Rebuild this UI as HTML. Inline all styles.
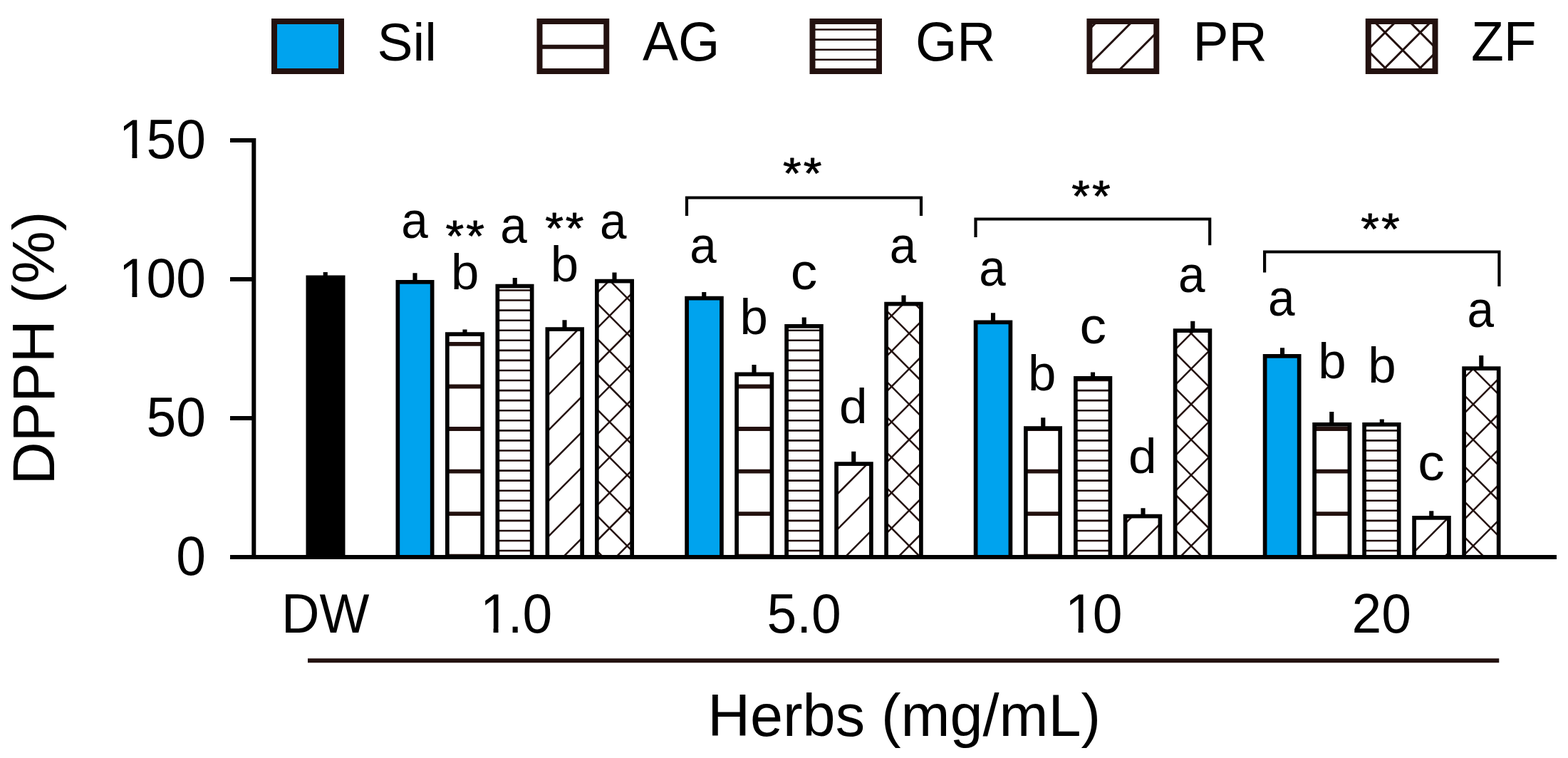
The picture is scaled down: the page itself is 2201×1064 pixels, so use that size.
<!DOCTYPE html>
<html lang="en">
<head>
<meta charset="utf-8">
<title>DPPH (%) of herbs</title>
<style>
html,body{margin:0;padding:0;background:#fff;}
body{width:2201px;height:1064px;overflow:hidden;}
svg{display:block;}
svg text{font-family:"Liberation Sans",Arial,Helvetica,sans-serif;fill:#000;}
</style>
</head>
<body>
<svg width="2201" height="1064" viewBox="0 0 2201 1064" role="img" aria-label="DPPH (%) bar chart">
<defs>
<clipPath id="c1"><rect x="757.50" y="30.00" width="93.75" height="70.00"/></clipPath>
<clipPath id="c2"><rect x="1140.50" y="30.00" width="93.50" height="70.00"/></clipPath>
<clipPath id="c3"><rect x="1529.40" y="30.00" width="93.85" height="70.00"/></clipPath>
<clipPath id="c4"><rect x="1920.75" y="30.00" width="93.75" height="70.00"/></clipPath>
<clipPath id="c5"><rect x="627.85" y="469.10" width="49.30" height="312.90"/></clipPath>
<clipPath id="c6"><rect x="698.35" y="401.60" width="48.30" height="380.40"/></clipPath>
<clipPath id="c7"><rect x="768.35" y="462.10" width="48.80" height="319.90"/></clipPath>
<clipPath id="c8"><rect x="837.85" y="394.60" width="49.30" height="387.40"/></clipPath>
<clipPath id="c9"><rect x="1034.10" y="525.35" width="49.30" height="256.65"/></clipPath>
<clipPath id="c10"><rect x="1104.10" y="457.85" width="48.80" height="324.15"/></clipPath>
<clipPath id="c11"><rect x="1174.10" y="651.10" width="48.80" height="130.90"/></clipPath>
<clipPath id="c12"><rect x="1244.10" y="426.60" width="48.80" height="355.40"/></clipPath>
<clipPath id="c13"><rect x="1439.85" y="601.10" width="48.30" height="180.90"/></clipPath>
<clipPath id="c14"><rect x="1509.85" y="530.85" width="48.55" height="251.15"/></clipPath>
<clipPath id="c15"><rect x="1579.60" y="724.60" width="48.80" height="57.40"/></clipPath>
<clipPath id="c16"><rect x="1649.60" y="464.10" width="48.80" height="317.90"/></clipPath>
<clipPath id="c17"><rect x="1845.10" y="595.85" width="49.30" height="186.15"/></clipPath>
<clipPath id="c18"><rect x="1915.10" y="595.85" width="48.55" height="186.15"/></clipPath>
<clipPath id="c19"><rect x="1985.10" y="726.85" width="48.80" height="55.15"/></clipPath>
<clipPath id="c20"><rect x="2055.10" y="517.15" width="48.55" height="264.85"/></clipPath>
<clipPath id="yl"><rect x="16" y="280" width="77" height="420"/></clipPath>
</defs>
<rect width="2201" height="1064" fill="#fff"/>
<g id="legend">
<rect x="385.00" y="30.0" width="94.00" height="70.0" fill="#00a3ee" stroke="#23110f" stroke-width="8"/>
<text x="529.50" y="85.00" font-size="75">Sil</text>
<g clip-path="url(#c1)" stroke="#23110f" fill="none"><path d="M757.50 65.8H851.25" stroke-width="6"/></g>
<rect x="757.50" y="30.0" width="93.75" height="70.0" fill="none" stroke="#23110f" stroke-width="8"/>
<text transform="translate(902.00 85.00) scale(1.0 1.025)" font-size="75">AG</text>
<g clip-path="url(#c2)" stroke="#23110f" fill="none"><path d="M1140.50 41.5H1234.00" stroke-width="2.6"/><path d="M1140.50 55.6H1234.00" stroke-width="2.6"/><path d="M1140.50 69.7H1234.00" stroke-width="2.6"/><path d="M1140.50 83.8H1234.00" stroke-width="2.6"/></g>
<rect x="1140.50" y="30.0" width="93.50" height="70.0" fill="none" stroke="#23110f" stroke-width="8"/>
<text transform="translate(1285.00 85.00) scale(1.0 1.025)" font-size="75">GR</text>
<g clip-path="url(#c3)" stroke="#23110f" fill="none"><path d="M1524.40 -3.90L1628.25 -108.21" stroke-width="3.0"/><path d="M1524.40 45.80L1628.25 -58.51" stroke-width="3.0"/><path d="M1524.40 95.50L1628.25 -8.81" stroke-width="3.0"/><path d="M1524.40 145.20L1628.25 40.89" stroke-width="3.0"/><path d="M1524.40 194.90L1628.25 90.59" stroke-width="3.0"/></g>
<rect x="1529.40" y="30.0" width="93.85" height="70.0" fill="none" stroke="#23110f" stroke-width="8"/>
<text transform="translate(1674.50 85.00) scale(1.0 1.025)" font-size="75">PR</text>
<g clip-path="url(#c4)" stroke="#23110f" fill="none"><path d="M1915.75 24.47L2019.50 -79.74" stroke-width="3.0"/><path d="M1915.75 74.17L2019.50 -30.04" stroke-width="3.0"/><path d="M1915.75 123.87L2019.50 19.66" stroke-width="3.0"/><path d="M1915.75 173.57L2019.50 69.36" stroke-width="3.0"/><path d="M1915.75 116.43L2019.50 220.64" stroke-width="3.0"/><path d="M1915.75 66.73L2019.50 170.94" stroke-width="3.0"/><path d="M1915.75 17.03L2019.50 121.24" stroke-width="3.0"/><path d="M1915.75 -32.67L2019.50 71.54" stroke-width="3.0"/></g>
<rect x="1920.75" y="30.0" width="93.75" height="70.0" fill="none" stroke="#23110f" stroke-width="8"/>
<text transform="translate(2065.00 85.00) scale(1.0 1.025)" font-size="75">ZF</text>
</g>
<g id="bars">
<path d="M456.75 382.00V389.50" stroke="#000" stroke-width="6.1" fill="none"/><rect x="432.35" y="389.35" width="49.30" height="392.65" fill="#000" stroke="#000" stroke-width="5.7"/>
<path d="M582.50 383.25V396.00" stroke="#000" stroke-width="6.1" fill="none"/><rect x="558.35" y="395.85" width="48.30" height="386.15" fill="#00a3ee" stroke="#000" stroke-width="5.7"/>
<path d="M652.50 462.50V469.25" stroke="#000" stroke-width="6.1" fill="none"/><rect x="627.85" y="469.10" width="49.30" height="312.90" fill="#fff"/><g clip-path="url(#c5)" stroke="#23110f" fill="none"><path d="M622.85 482.90H682.15" stroke-width="5.9"/><path d="M622.85 542.46H682.15" stroke-width="5.9"/><path d="M622.85 602.02H682.15" stroke-width="5.9"/><path d="M622.85 661.58H682.15" stroke-width="5.9"/><path d="M622.85 721.14H682.15" stroke-width="5.9"/><path d="M622.85 780.70H682.15" stroke-width="5.9"/></g><rect x="627.85" y="469.10" width="49.30" height="312.90" fill="none" stroke="#000" stroke-width="5.7"/>
<path d="M722.75 390.00V401.75" stroke="#000" stroke-width="6.1" fill="none"/><rect x="698.35" y="401.60" width="48.30" height="380.40" fill="#fff"/><g clip-path="url(#c6)" stroke="#23110f" fill="none"><path d="M693.35 407.50H751.65" stroke-width="2.6"/><path d="M693.35 421.56H751.65" stroke-width="2.6"/><path d="M693.35 435.62H751.65" stroke-width="2.6"/><path d="M693.35 449.68H751.65" stroke-width="2.6"/><path d="M693.35 463.74H751.65" stroke-width="2.6"/><path d="M693.35 477.80H751.65" stroke-width="2.6"/><path d="M693.35 491.86H751.65" stroke-width="2.6"/><path d="M693.35 505.92H751.65" stroke-width="2.6"/><path d="M693.35 519.98H751.65" stroke-width="2.6"/><path d="M693.35 534.04H751.65" stroke-width="2.6"/><path d="M693.35 548.10H751.65" stroke-width="2.6"/><path d="M693.35 562.16H751.65" stroke-width="2.6"/><path d="M693.35 576.22H751.65" stroke-width="2.6"/><path d="M693.35 590.28H751.65" stroke-width="2.6"/><path d="M693.35 604.34H751.65" stroke-width="2.6"/><path d="M693.35 618.40H751.65" stroke-width="2.6"/><path d="M693.35 632.46H751.65" stroke-width="2.6"/><path d="M693.35 646.52H751.65" stroke-width="2.6"/><path d="M693.35 660.58H751.65" stroke-width="2.6"/><path d="M693.35 674.64H751.65" stroke-width="2.6"/><path d="M693.35 688.70H751.65" stroke-width="2.6"/><path d="M693.35 702.76H751.65" stroke-width="2.6"/><path d="M693.35 716.82H751.65" stroke-width="2.6"/><path d="M693.35 730.88H751.65" stroke-width="2.6"/><path d="M693.35 744.94H751.65" stroke-width="2.6"/><path d="M693.35 759.00H751.65" stroke-width="2.6"/><path d="M693.35 773.06H751.65" stroke-width="2.6"/></g><rect x="698.35" y="401.60" width="48.30" height="380.40" fill="none" stroke="#000" stroke-width="5.7"/>
<path d="M792.50 449.25V462.25" stroke="#000" stroke-width="6.1" fill="none"/><rect x="768.35" y="462.10" width="48.80" height="319.90" fill="#fff"/><g clip-path="url(#c7)" stroke="#23110f" fill="none"><path d="M763.35 411.54L822.15 352.48" stroke-width="2.5"/><path d="M763.35 461.24L822.15 402.18" stroke-width="2.5"/><path d="M763.35 510.94L822.15 451.88" stroke-width="2.5"/><path d="M763.35 560.64L822.15 501.58" stroke-width="2.5"/><path d="M763.35 610.34L822.15 551.28" stroke-width="2.5"/><path d="M763.35 660.04L822.15 600.98" stroke-width="2.5"/><path d="M763.35 709.74L822.15 650.68" stroke-width="2.5"/><path d="M763.35 759.44L822.15 700.38" stroke-width="2.5"/><path d="M763.35 809.14L822.15 750.08" stroke-width="2.5"/></g><rect x="768.35" y="462.10" width="48.80" height="319.90" fill="none" stroke="#000" stroke-width="5.7"/>
<path d="M862.50 382.50V394.75" stroke="#000" stroke-width="6.1" fill="none"/><rect x="837.85" y="394.60" width="49.30" height="387.40" fill="#fff"/><g clip-path="url(#c8)" stroke="#23110f" fill="none"><path d="M832.85 366.68L892.15 307.12" stroke-width="2.5"/><path d="M832.85 416.38L892.15 356.82" stroke-width="2.5"/><path d="M832.85 466.08L892.15 406.52" stroke-width="2.5"/><path d="M832.85 515.78L892.15 456.22" stroke-width="2.5"/><path d="M832.85 565.48L892.15 505.92" stroke-width="2.5"/><path d="M832.85 615.18L892.15 555.62" stroke-width="2.5"/><path d="M832.85 664.88L892.15 605.32" stroke-width="2.5"/><path d="M832.85 714.58L892.15 655.02" stroke-width="2.5"/><path d="M832.85 764.28L892.15 704.72" stroke-width="2.5"/><path d="M832.85 813.98L892.15 754.42" stroke-width="2.5"/><path d="M832.85 817.92L892.15 877.48" stroke-width="2.5"/><path d="M832.85 768.22L892.15 827.78" stroke-width="2.5"/><path d="M832.85 718.52L892.15 778.08" stroke-width="2.5"/><path d="M832.85 668.82L892.15 728.38" stroke-width="2.5"/><path d="M832.85 619.12L892.15 678.68" stroke-width="2.5"/><path d="M832.85 569.42L892.15 628.98" stroke-width="2.5"/><path d="M832.85 519.72L892.15 579.28" stroke-width="2.5"/><path d="M832.85 470.02L892.15 529.58" stroke-width="2.5"/><path d="M832.85 420.32L892.15 479.88" stroke-width="2.5"/><path d="M832.85 370.62L892.15 430.18" stroke-width="2.5"/></g><rect x="837.85" y="394.60" width="49.30" height="387.40" fill="none" stroke="#000" stroke-width="5.7"/>
<path d="M988.25 410.00V418.75" stroke="#000" stroke-width="6.1" fill="none"/><rect x="964.10" y="418.60" width="48.80" height="363.40" fill="#00a3ee" stroke="#000" stroke-width="5.7"/>
<path d="M1058.50 512.00V525.50" stroke="#000" stroke-width="6.1" fill="none"/><rect x="1034.10" y="525.35" width="49.30" height="256.65" fill="#fff"/><g clip-path="url(#c9)" stroke="#23110f" fill="none"><path d="M1029.10 542.46H1088.40" stroke-width="5.9"/><path d="M1029.10 602.02H1088.40" stroke-width="5.9"/><path d="M1029.10 661.58H1088.40" stroke-width="5.9"/><path d="M1029.10 721.14H1088.40" stroke-width="5.9"/><path d="M1029.10 780.70H1088.40" stroke-width="5.9"/></g><rect x="1034.10" y="525.35" width="49.30" height="256.65" fill="none" stroke="#000" stroke-width="5.7"/>
<path d="M1128.75 445.50V458.00" stroke="#000" stroke-width="6.1" fill="none"/><rect x="1104.10" y="457.85" width="48.80" height="324.15" fill="#fff"/><g clip-path="url(#c10)" stroke="#23110f" fill="none"><path d="M1099.10 463.74H1157.90" stroke-width="2.6"/><path d="M1099.10 477.80H1157.90" stroke-width="2.6"/><path d="M1099.10 491.86H1157.90" stroke-width="2.6"/><path d="M1099.10 505.92H1157.90" stroke-width="2.6"/><path d="M1099.10 519.98H1157.90" stroke-width="2.6"/><path d="M1099.10 534.04H1157.90" stroke-width="2.6"/><path d="M1099.10 548.10H1157.90" stroke-width="2.6"/><path d="M1099.10 562.16H1157.90" stroke-width="2.6"/><path d="M1099.10 576.22H1157.90" stroke-width="2.6"/><path d="M1099.10 590.28H1157.90" stroke-width="2.6"/><path d="M1099.10 604.34H1157.90" stroke-width="2.6"/><path d="M1099.10 618.40H1157.90" stroke-width="2.6"/><path d="M1099.10 632.46H1157.90" stroke-width="2.6"/><path d="M1099.10 646.52H1157.90" stroke-width="2.6"/><path d="M1099.10 660.58H1157.90" stroke-width="2.6"/><path d="M1099.10 674.64H1157.90" stroke-width="2.6"/><path d="M1099.10 688.70H1157.90" stroke-width="2.6"/><path d="M1099.10 702.76H1157.90" stroke-width="2.6"/><path d="M1099.10 716.82H1157.90" stroke-width="2.6"/><path d="M1099.10 730.88H1157.90" stroke-width="2.6"/><path d="M1099.10 744.94H1157.90" stroke-width="2.6"/><path d="M1099.10 759.00H1157.90" stroke-width="2.6"/><path d="M1099.10 773.06H1157.90" stroke-width="2.6"/></g><rect x="1104.10" y="457.85" width="48.80" height="324.15" fill="none" stroke="#000" stroke-width="5.7"/>
<path d="M1198.25 633.75V651.25" stroke="#000" stroke-width="6.1" fill="none"/><rect x="1174.10" y="651.10" width="48.80" height="130.90" fill="#fff"/><g clip-path="url(#c11)" stroke="#23110f" fill="none"><path d="M1169.10 600.39L1227.90 541.33" stroke-width="2.5"/><path d="M1169.10 650.09L1227.90 591.03" stroke-width="2.5"/><path d="M1169.10 699.79L1227.90 640.73" stroke-width="2.5"/><path d="M1169.10 749.49L1227.90 690.43" stroke-width="2.5"/><path d="M1169.10 799.19L1227.90 740.13" stroke-width="2.5"/></g><rect x="1174.10" y="651.10" width="48.80" height="130.90" fill="none" stroke="#000" stroke-width="5.7"/>
<path d="M1268.50 414.50V426.75" stroke="#000" stroke-width="6.1" fill="none"/><rect x="1244.10" y="426.60" width="48.80" height="355.40" fill="#fff"/><g clip-path="url(#c12)" stroke="#23110f" fill="none"><path d="M1239.10 405.93L1297.90 346.87" stroke-width="2.5"/><path d="M1239.10 455.63L1297.90 396.57" stroke-width="2.5"/><path d="M1239.10 505.33L1297.90 446.27" stroke-width="2.5"/><path d="M1239.10 555.03L1297.90 495.97" stroke-width="2.5"/><path d="M1239.10 604.73L1297.90 545.67" stroke-width="2.5"/><path d="M1239.10 654.43L1297.90 595.37" stroke-width="2.5"/><path d="M1239.10 704.13L1297.90 645.07" stroke-width="2.5"/><path d="M1239.10 753.83L1297.90 694.77" stroke-width="2.5"/><path d="M1239.10 803.53L1297.90 744.47" stroke-width="2.5"/><path d="M1239.10 828.37L1297.90 887.43" stroke-width="2.5"/><path d="M1239.10 778.67L1297.90 837.73" stroke-width="2.5"/><path d="M1239.10 728.97L1297.90 788.03" stroke-width="2.5"/><path d="M1239.10 679.27L1297.90 738.33" stroke-width="2.5"/><path d="M1239.10 629.57L1297.90 688.63" stroke-width="2.5"/><path d="M1239.10 579.87L1297.90 638.93" stroke-width="2.5"/><path d="M1239.10 530.17L1297.90 589.23" stroke-width="2.5"/><path d="M1239.10 480.47L1297.90 539.53" stroke-width="2.5"/><path d="M1239.10 430.77L1297.90 489.83" stroke-width="2.5"/><path d="M1239.10 381.07L1297.90 440.13" stroke-width="2.5"/></g><rect x="1244.10" y="426.60" width="48.80" height="355.40" fill="none" stroke="#000" stroke-width="5.7"/>
<path d="M1394.00 439.25V452.50" stroke="#000" stroke-width="6.1" fill="none"/><rect x="1369.60" y="452.35" width="48.80" height="329.65" fill="#00a3ee" stroke="#000" stroke-width="5.7"/>
<path d="M1464.25 586.25V601.25" stroke="#000" stroke-width="6.1" fill="none"/><rect x="1439.85" y="601.10" width="48.30" height="180.90" fill="#fff"/><g clip-path="url(#c13)" stroke="#23110f" fill="none"><path d="M1434.85 602.02H1493.15" stroke-width="5.9"/><path d="M1434.85 661.58H1493.15" stroke-width="5.9"/><path d="M1434.85 721.14H1493.15" stroke-width="5.9"/><path d="M1434.85 780.70H1493.15" stroke-width="5.9"/></g><rect x="1439.85" y="601.10" width="48.30" height="180.90" fill="none" stroke="#000" stroke-width="5.7"/>
<path d="M1534.00 522.50V531.00" stroke="#000" stroke-width="6.1" fill="none"/><rect x="1509.85" y="530.85" width="48.55" height="251.15" fill="#fff"/><g clip-path="url(#c14)" stroke="#23110f" fill="none"><path d="M1504.85 534.04H1563.40" stroke-width="2.6"/><path d="M1504.85 548.10H1563.40" stroke-width="2.6"/><path d="M1504.85 562.16H1563.40" stroke-width="2.6"/><path d="M1504.85 576.22H1563.40" stroke-width="2.6"/><path d="M1504.85 590.28H1563.40" stroke-width="2.6"/><path d="M1504.85 604.34H1563.40" stroke-width="2.6"/><path d="M1504.85 618.40H1563.40" stroke-width="2.6"/><path d="M1504.85 632.46H1563.40" stroke-width="2.6"/><path d="M1504.85 646.52H1563.40" stroke-width="2.6"/><path d="M1504.85 660.58H1563.40" stroke-width="2.6"/><path d="M1504.85 674.64H1563.40" stroke-width="2.6"/><path d="M1504.85 688.70H1563.40" stroke-width="2.6"/><path d="M1504.85 702.76H1563.40" stroke-width="2.6"/><path d="M1504.85 716.82H1563.40" stroke-width="2.6"/><path d="M1504.85 730.88H1563.40" stroke-width="2.6"/><path d="M1504.85 744.94H1563.40" stroke-width="2.6"/><path d="M1504.85 759.00H1563.40" stroke-width="2.6"/><path d="M1504.85 773.06H1563.40" stroke-width="2.6"/></g><rect x="1509.85" y="530.85" width="48.55" height="251.15" fill="none" stroke="#000" stroke-width="5.7"/>
<path d="M1604.50 713.25V724.75" stroke="#000" stroke-width="6.1" fill="none"/><rect x="1579.60" y="724.60" width="48.80" height="57.40" fill="#fff"/><g clip-path="url(#c15)" stroke="#23110f" fill="none"><path d="M1574.60 690.09L1633.40 631.03" stroke-width="2.5"/><path d="M1574.60 739.79L1633.40 680.73" stroke-width="2.5"/><path d="M1574.60 789.49L1633.40 730.43" stroke-width="2.5"/><path d="M1574.60 839.19L1633.40 780.13" stroke-width="2.5"/></g><rect x="1579.60" y="724.60" width="48.80" height="57.40" fill="none" stroke="#000" stroke-width="5.7"/>
<path d="M1674.25 450.75V464.25" stroke="#000" stroke-width="6.1" fill="none"/><rect x="1649.60" y="464.10" width="48.80" height="317.90" fill="#fff"/><g clip-path="url(#c16)" stroke="#23110f" fill="none"><path d="M1644.60 445.92L1703.40 386.86" stroke-width="2.5"/><path d="M1644.60 495.62L1703.40 436.56" stroke-width="2.5"/><path d="M1644.60 545.32L1703.40 486.26" stroke-width="2.5"/><path d="M1644.60 595.02L1703.40 535.96" stroke-width="2.5"/><path d="M1644.60 644.72L1703.40 585.66" stroke-width="2.5"/><path d="M1644.60 694.42L1703.40 635.36" stroke-width="2.5"/><path d="M1644.60 744.12L1703.40 685.06" stroke-width="2.5"/><path d="M1644.60 793.82L1703.40 734.76" stroke-width="2.5"/><path d="M1644.60 843.52L1703.40 784.46" stroke-width="2.5"/><path d="M1644.60 788.37L1703.40 847.44" stroke-width="2.5"/><path d="M1644.60 738.67L1703.40 797.74" stroke-width="2.5"/><path d="M1644.60 688.97L1703.40 748.04" stroke-width="2.5"/><path d="M1644.60 639.27L1703.40 698.34" stroke-width="2.5"/><path d="M1644.60 589.57L1703.40 648.64" stroke-width="2.5"/><path d="M1644.60 539.87L1703.40 598.94" stroke-width="2.5"/><path d="M1644.60 490.17L1703.40 549.24" stroke-width="2.5"/><path d="M1644.60 440.47L1703.40 499.54" stroke-width="2.5"/></g><rect x="1649.60" y="464.10" width="48.80" height="317.90" fill="none" stroke="#000" stroke-width="5.7"/>
<path d="M1800.00 488.25V500.00" stroke="#000" stroke-width="6.1" fill="none"/><rect x="1775.60" y="499.85" width="48.05" height="282.15" fill="#00a3ee" stroke="#000" stroke-width="5.7"/>
<path d="M1869.25 578.00V596.00" stroke="#000" stroke-width="6.1" fill="none"/><rect x="1845.10" y="595.85" width="49.30" height="186.15" fill="#fff"/><g clip-path="url(#c17)" stroke="#23110f" fill="none"><path d="M1840.10 602.02H1899.40" stroke-width="5.9"/><path d="M1840.10 661.58H1899.40" stroke-width="5.9"/><path d="M1840.10 721.14H1899.40" stroke-width="5.9"/><path d="M1840.10 780.70H1899.40" stroke-width="5.9"/></g><rect x="1845.10" y="595.85" width="49.30" height="186.15" fill="none" stroke="#000" stroke-width="5.7"/>
<path d="M1939.75 588.50V596.00" stroke="#000" stroke-width="6.1" fill="none"/><rect x="1915.10" y="595.85" width="48.55" height="186.15" fill="#fff"/><g clip-path="url(#c18)" stroke="#23110f" fill="none"><path d="M1910.10 604.34H1968.65" stroke-width="2.6"/><path d="M1910.10 618.40H1968.65" stroke-width="2.6"/><path d="M1910.10 632.46H1968.65" stroke-width="2.6"/><path d="M1910.10 646.52H1968.65" stroke-width="2.6"/><path d="M1910.10 660.58H1968.65" stroke-width="2.6"/><path d="M1910.10 674.64H1968.65" stroke-width="2.6"/><path d="M1910.10 688.70H1968.65" stroke-width="2.6"/><path d="M1910.10 702.76H1968.65" stroke-width="2.6"/><path d="M1910.10 716.82H1968.65" stroke-width="2.6"/><path d="M1910.10 730.88H1968.65" stroke-width="2.6"/><path d="M1910.10 744.94H1968.65" stroke-width="2.6"/><path d="M1910.10 759.00H1968.65" stroke-width="2.6"/><path d="M1910.10 773.06H1968.65" stroke-width="2.6"/></g><rect x="1915.10" y="595.85" width="48.55" height="186.15" fill="none" stroke="#000" stroke-width="5.7"/>
<path d="M2009.25 717.25V727.00" stroke="#000" stroke-width="6.1" fill="none"/><rect x="1985.10" y="726.85" width="48.80" height="55.15" fill="#fff"/><g clip-path="url(#c19)" stroke="#23110f" fill="none"><path d="M1980.10 680.38L2038.90 621.32" stroke-width="2.5"/><path d="M1980.10 730.08L2038.90 671.02" stroke-width="2.5"/><path d="M1980.10 779.78L2038.90 720.72" stroke-width="2.5"/><path d="M1980.10 829.48L2038.90 770.42" stroke-width="2.5"/></g><rect x="1985.10" y="726.85" width="48.80" height="55.15" fill="none" stroke="#000" stroke-width="5.7"/>
<path d="M2079.25 498.90V517.30" stroke="#000" stroke-width="6.1" fill="none"/><rect x="2055.10" y="517.15" width="48.55" height="264.85" fill="#fff"/><g clip-path="url(#c20)" stroke="#23110f" fill="none"><path d="M2050.10 485.92L2108.65 427.11" stroke-width="2.5"/><path d="M2050.10 535.62L2108.65 476.81" stroke-width="2.5"/><path d="M2050.10 585.32L2108.65 526.51" stroke-width="2.5"/><path d="M2050.10 635.02L2108.65 576.21" stroke-width="2.5"/><path d="M2050.10 684.72L2108.65 625.91" stroke-width="2.5"/><path d="M2050.10 734.42L2108.65 675.61" stroke-width="2.5"/><path d="M2050.10 784.12L2108.65 725.31" stroke-width="2.5"/><path d="M2050.10 833.82L2108.65 775.01" stroke-width="2.5"/><path d="M2050.10 798.08L2108.65 856.89" stroke-width="2.5"/><path d="M2050.10 748.38L2108.65 807.19" stroke-width="2.5"/><path d="M2050.10 698.68L2108.65 757.49" stroke-width="2.5"/><path d="M2050.10 648.98L2108.65 707.79" stroke-width="2.5"/><path d="M2050.10 599.28L2108.65 658.09" stroke-width="2.5"/><path d="M2050.10 549.58L2108.65 608.39" stroke-width="2.5"/><path d="M2050.10 499.88L2108.65 558.69" stroke-width="2.5"/></g><rect x="2055.10" y="517.15" width="48.55" height="264.85" fill="none" stroke="#000" stroke-width="5.7"/>
</g>
<g id="axes" stroke="#000" stroke-width="6" fill="none"><path d="M323 197H356.3M323 392H356.3M323 587H356.3"/><path d="M356.3 194V785"/><path d="M323 782H2185"/></g>
<g id="yticks">
<text transform="translate(163.85 222.00) scale(1 1.04)" font-size="75"><tspan dx="2.9">1</tspan><tspan dx="-2.9">50</tspan></text><path d="M171.47 215.47H185.47V223.00H171.47ZM192.39 215.47H205.80V223.00H192.39Z" fill="#fff"/>
<text transform="translate(163.85 417.00) scale(1 1.04)" font-size="75"><tspan dx="2.9">1</tspan><tspan dx="-2.9">00</tspan></text><path d="M171.47 410.47H185.47V418.00H171.47ZM192.39 410.47H205.80V418.00H192.39Z" fill="#fff"/>
<text transform="translate(205.57 612.00) scale(1.0 1.04)" font-size="75">50</text>
<text transform="translate(247.28 807.00) scale(1.0 1.04)" font-size="75">0</text>
</g>
<g id="xlabels">
<text transform="translate(395.00 888.00) scale(0.988 1.04)" font-size="75">DW</text>
<text transform="translate(671.00 888.00) scale(1 1.04)" font-size="75"><tspan dx="2.9">1</tspan><tspan dx="-2.9">.0</tspan></text><path d="M678.62 881.47H692.61V889.00H678.62ZM699.53 881.47H712.95V889.00H699.53Z" fill="#fff"/>
<text transform="translate(1076.50 888.00) scale(1.0 1.04)" font-size="75">5.0</text>
<text transform="translate(1492.00 888.00) scale(1 1.04)" font-size="75"><tspan dx="2.9">1</tspan><tspan dx="-2.9">0</tspan></text><path d="M1499.62 881.47H1513.61V889.00H1499.62ZM1520.54 881.47H1533.95V889.00H1520.54Z" fill="#fff"/>
<text transform="translate(1897.50 888.00) scale(1.0 1.04)" font-size="75">20</text>
<path d="M432 927.3H2104.25" stroke="#23110f" stroke-width="6" fill="none"/>
</g>
<text transform="translate(993.20 1033.00) scale(1.0 1.012)" font-size="82.8">Herbs (mg/mL)</text>
<g clip-path="url(#yl)"><text transform="translate(76.25 680.5) rotate(-90)" font-size="83.3">DPPH (%)</text></g>
<g id="brackets" stroke="#000" stroke-width="4.2" fill="none">
<path d="M964.0 303.0V277.5H1293.0V303.0"/>
<path d="M1369.5 333.0V307.5H1698.2V344.25"/>
<path d="M1775.1 382.5V353.5H2104.4V402.0"/>
</g>
<g id="marks">
<text transform="translate(563.13 334.00) scale(0.9 0.96)" font-size="75">a</text>
<text transform="translate(625.59 351.78) scale(1 0.92)" font-size="66" letter-spacing="3.05" stroke="#000" stroke-width="0.9" stroke-linejoin="round">**</text>
<text transform="translate(632.93 405.70) scale(0.945 0.93)" font-size="75">b</text>
<text transform="translate(702.13 341.40) scale(0.9 0.96)" font-size="75">a</text>
<text transform="translate(765.14 341.18) scale(1 0.92)" font-size="66" letter-spacing="3.05" stroke="#000" stroke-width="0.9" stroke-linejoin="round">**</text>
<text transform="translate(772.73 395.20) scale(0.945 0.93)" font-size="75">b</text>
<text transform="translate(841.93 335.30) scale(0.9 0.96)" font-size="75">a</text>
<text transform="translate(1099.09 264.43) scale(1 0.92)" font-size="66" letter-spacing="3.05" stroke="#000" stroke-width="0.9" stroke-linejoin="round">**</text>
<text transform="translate(968.33 369.00) scale(0.9 0.96)" font-size="75">a</text>
<text transform="translate(1038.43 469.00) scale(0.945 0.93)" font-size="75">b</text>
<text transform="translate(1109.81 405.90) scale(1.0 0.96)" font-size="75">c</text>
<text transform="translate(1178.01 593.50) scale(0.95 0.92)" font-size="75">d</text>
<text transform="translate(1248.73 368.80) scale(0.9 0.96)" font-size="75">a</text>
<text transform="translate(1504.34 295.93) scale(1 0.92)" font-size="66" letter-spacing="3.05" stroke="#000" stroke-width="0.9" stroke-linejoin="round">**</text>
<text transform="translate(1374.13 401.30) scale(0.9 0.96)" font-size="75">a</text>
<text transform="translate(1442.93 548.00) scale(0.945 0.93)" font-size="75">b</text>
<text transform="translate(1515.61 481.50) scale(1.0 0.96)" font-size="75">c</text>
<text transform="translate(1584.01 664.00) scale(0.95 0.92)" font-size="75">d</text>
<text transform="translate(1654.03 410.00) scale(0.9 0.96)" font-size="75">a</text>
<text transform="translate(1910.34 342.18) scale(1 0.92)" font-size="66" letter-spacing="3.05" stroke="#000" stroke-width="0.9" stroke-linejoin="round">**</text>
<text transform="translate(1779.88 442.50) scale(0.9 0.96)" font-size="75">a</text>
<text transform="translate(1850.18 531.00) scale(0.945 0.93)" font-size="75">b</text>
<text transform="translate(1920.33 537.00) scale(0.945 0.93)" font-size="75">b</text>
<text transform="translate(1990.31 673.50) scale(1.0 0.96)" font-size="75">c</text>
<text transform="translate(2059.38 458.70) scale(0.9 0.96)" font-size="75">a</text>
</g>
</svg>
</body>
</html>
